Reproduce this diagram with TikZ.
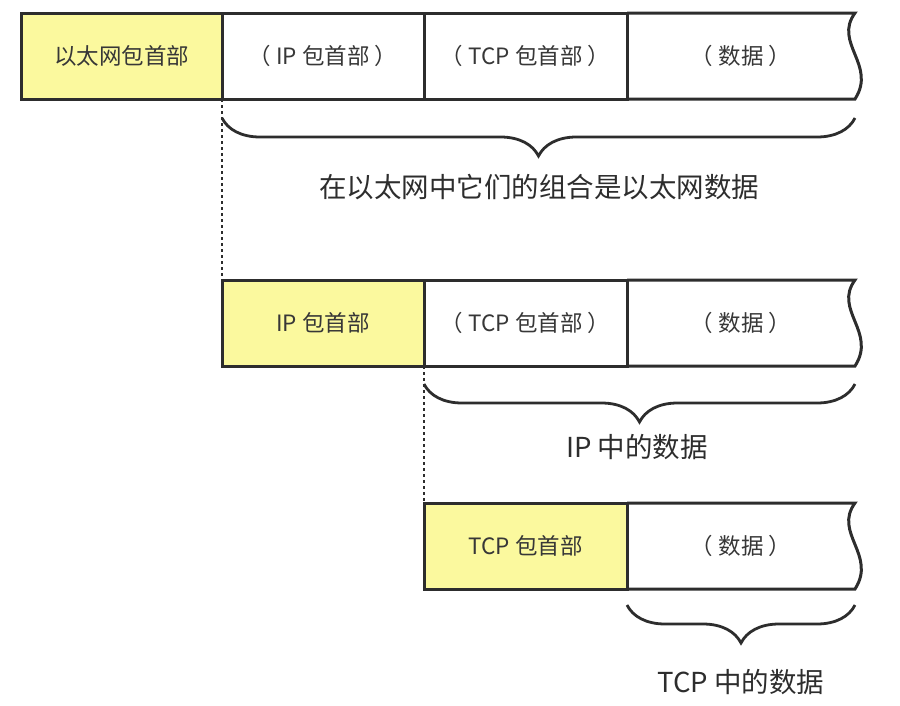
\documentclass[tikz,border=0pt]{standalone}
\usepackage{fontspec}
\newfontfamily\cjk{Noto Sans CJK SC}
\usetikzlibrary{positioning, decorations.pathreplacing}

\definecolor{hdryellow}{RGB}{251,249,158}
\definecolor{linegray}{RGB}{45,45,45}
\definecolor{textgray}{RGB}{55,55,55}

\begin{document}
\begin{tikzpicture}[
  x=1pt, y=-1pt,
  node distance = 0pt,
  cell/.style = {
    rectangle, anchor=north west,
    minimum height=86pt, inner sep=0pt, outer sep=0pt,
    text=textgray, font=\cjk\fontsize{22.5}{26}\selectfont,
    line width=3pt
  },
  hdrcell/.style  = {cell, draw=linegray, fill=hdryellow},
  paycell/.style  = {cell, draw=linegray},
  endcell/.style  = {cell},
  edge/.style     = {draw=linegray, line width=3pt},
  guide/.style    = {draw=linegray, line width=2.6pt,
                     dash pattern=on 2.6pt off 3.4pt},
  curly/.style    = {draw=linegray, line width=2.8pt,
                     decorate, decoration={brace, mirror, amplitude=38pt}},
  note/.style     = {text=linegray, font=\cjk\fontsize{27.5}{32}\selectfont}
]
\useasboundingbox (0,0) rectangle (900,705);
%--- LINHA 1: QUADRO ETHERNET ---
\node[hdrcell, minimum width=201pt] (eth) at (21,13) {以太网包首部};
\node[paycell, minimum width=202pt, right=of eth] (e1) {（ IP 包首部 ）};
\node[paycell, minimum width=203pt, right=of e1]  (e2) {（ TCP 包首部 ）};
\node[endcell, minimum width=228pt, right=of e2]  (e3) {（ 数据 ）};
\draw[edge] (e3.north west) -- (e3.north east)
  .. controls +(-22,30) and +(22,-34) .. (e3.south east) -- (e3.south west);
%--- LINHA 2: PACOTE IP ---
\node[hdrcell, minimum width=202pt] (ip) at (222,280) {IP 包首部};
\node[paycell, minimum width=203pt, right=of ip] (i1) {（ TCP 包首部 ）};
\node[endcell, minimum width=228pt, right=of i1] (i2) {（ 数据 ）};
\draw[edge] (i2.north west) -- (i2.north east)
  .. controls +(-22,30) and +(22,-34) .. (i2.south east) -- (i2.south west);
%--- LINHA 3: SEGMENTO TCP ---
\node[hdrcell, minimum width=203pt] (tcp) at (424,503) {TCP 包首部};
\node[endcell, minimum width=228pt, right=of tcp] (t1) {（ 数据 ）};
\draw[edge] (t1.north west) -- (t1.north east)
  .. controls +(-22,30) and +(22,-34) .. (t1.south east) -- (t1.south west);
%--- LINHAS DE GUIA ---
\draw[guide] (eth.south east) -- (ip.north west);
\draw[guide] (ip.south east) -- (tcp.north west);
%--- CHAVES ---
\draw[curly] ([yshift=-19pt]eth.south east) -- ([yshift=-19pt]e3.south east);
\node[note] (c1) at (539,187) {在以太网中它们的组合是以太网数据};
\draw[curly] ([yshift=-18pt]ip.south east) -- ([yshift=-18pt]i2.south east);
\node[note] (c2) at (637,447) {IP 中的数据};
\draw[curly] ([yshift=-16pt]tcp.south east) -- ([yshift=-16pt]t1.south east);
\node[note] (c3) at (741,682) {TCP 中的数据};
\end{tikzpicture}
\end{document}
